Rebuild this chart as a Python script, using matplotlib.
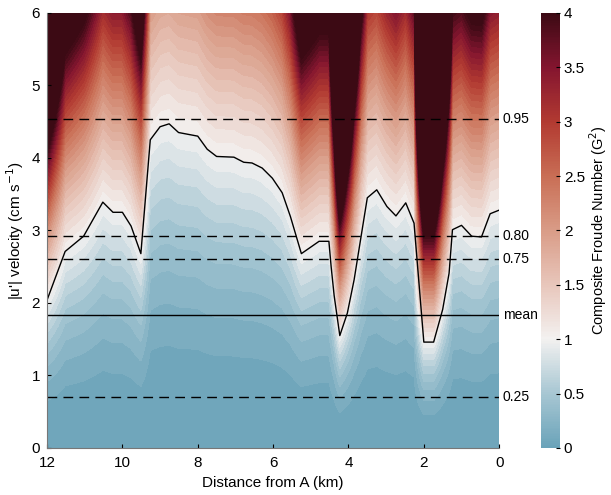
import numpy as np
import matplotlib
matplotlib.use('Agg')
import matplotlib.pyplot as plt
from matplotlib.colors import LinearSegmentedColormap, Normalize
from matplotlib.cm import ScalarMappable

plt.rcParams.update({
    'font.family': ['Liberation Sans', 'DejaVu Sans'],
    'font.size': 10,
    'xtick.direction': 'in', 'ytick.direction': 'in',
    'axes.spines.top': False, 'axes.spines.right': False,
})

# critical velocity (G^2 = 1 contour)
dist_km = [12.0, 11.52, 11.03, 10.52, 10.25, 10.0, 9.77, 9.51, 9.26, 9.0, 8.76, 8.51,
           8.0, 7.75, 7.5, 7.04, 6.78, 6.56, 6.29, 6.02, 5.76, 5.54, 5.25, 4.78,
           4.52, 4.46, 4.38, 4.23, 4.03, 3.85, 3.68, 3.5, 3.25, 2.98, 2.74, 2.48,
           2.26, 2.0, 1.74, 1.5, 1.33, 1.24, 1.0, 0.73, 0.47, 0.24, 0.0]
u_crit = [2.04, 2.71, 2.92, 3.39, 3.25, 3.25, 3.06, 2.68, 4.25, 4.43, 4.47, 4.35,
          4.30, 4.12, 4.02, 4.01, 3.94, 3.93, 3.86, 3.72, 3.52, 3.19, 2.68, 2.85,
          2.85, 2.50, 2.10, 1.55, 1.86, 2.32, 2.87, 3.45, 3.56, 3.33, 3.20, 3.38,
          3.10, 1.46, 1.46, 1.91, 2.41, 3.01, 3.07, 2.92, 2.91, 3.23, 3.28]

# velocity percentiles (horizontal reference lines)
pct_labels = ['0.95', '0.80', '0.75', 'mean', '0.25']
pct_values = [4.53, 2.92, 2.61, 1.83, 0.70]

cmap = LinearSegmentedColormap.from_list('froude', [
    (0.0, '#6aa3b9'), (0.125, '#a8c7d3'), (0.25, '#f3f1f0'), (0.375, '#e8c6bb'),
    (0.5, '#d99c87'), (0.625, '#c96e55'), (0.75, '#b23a31'), (0.875, '#84152f'),
    (1.0, '#3c0a14')])
cmap.set_over('#3c0a14')

u = np.linspace(0, 6, 121)
X, U = np.meshgrid(np.array(dist_km), u)
C = np.meshgrid(np.array(u_crit), u)[0]
G2 = (U / C) ** 2

fig = plt.figure(figsize=(6.11, 4.95), dpi=100)
ax = fig.add_axes([0.077, 0.095, 0.740, 0.879])
cax = fig.add_axes([0.885, 0.095, 0.031, 0.879])

levels = np.arange(0, 4.001, 0.1)
cf = ax.contourf(X, U, G2, levels=levels, cmap=cmap, vmin=0, vmax=4, extend='max')
ax.plot(dist_km, u_crit, color='black', lw=1.0)

for lab, val in zip(pct_labels, pct_values):
    if lab == 'mean':
        ax.axhline(val, color='black', lw=1.0)
    else:
        ax.axhline(val, color='black', lw=1.0, dashes=(7, 4.5))
    ax.text(1.008, val, lab, transform=ax.get_yaxis_transform(), ha='left',
            va='center', fontsize=10, clip_on=False)

ax.set_xlim(12, 0)
ax.set_ylim(0, 6)
ax.set_xticks([12, 10, 8, 6, 4, 2, 0])
ax.set_yticks([0, 1, 2, 3, 4, 5, 6])
ax.set_xlabel('Distance from A (km)', fontsize=11)
ax.set_ylabel("|u'| velocity (cm s$^{-1}$)", fontsize=11)
for s in ['left', 'bottom']:
    ax.spines[s].set_color('#777777')
ax.tick_params(length=3, labelsize=11)
ax.tick_params(axis='x', pad=6)
ax.tick_params(axis='y', pad=5)

sm = ScalarMappable(norm=Normalize(0, 4), cmap=cmap)
cb = fig.colorbar(sm, cax=cax)
cb.set_ticks([0, 0.5, 1, 1.5, 2, 2.5, 3, 3.5, 4])
cb.set_ticklabels(['0', '0.5', '1', '1.5', '2', '2.5', '3', '3.5', '4'])
cb.ax.tick_params(length=3, direction='in', labelsize=11, pad=3)
cb.outline.set_visible(False)
cb.set_label('Composite Froude Number (G$^2$)', fontsize=10.5, labelpad=2)

fig.savefig('out.png', dpi=100)
